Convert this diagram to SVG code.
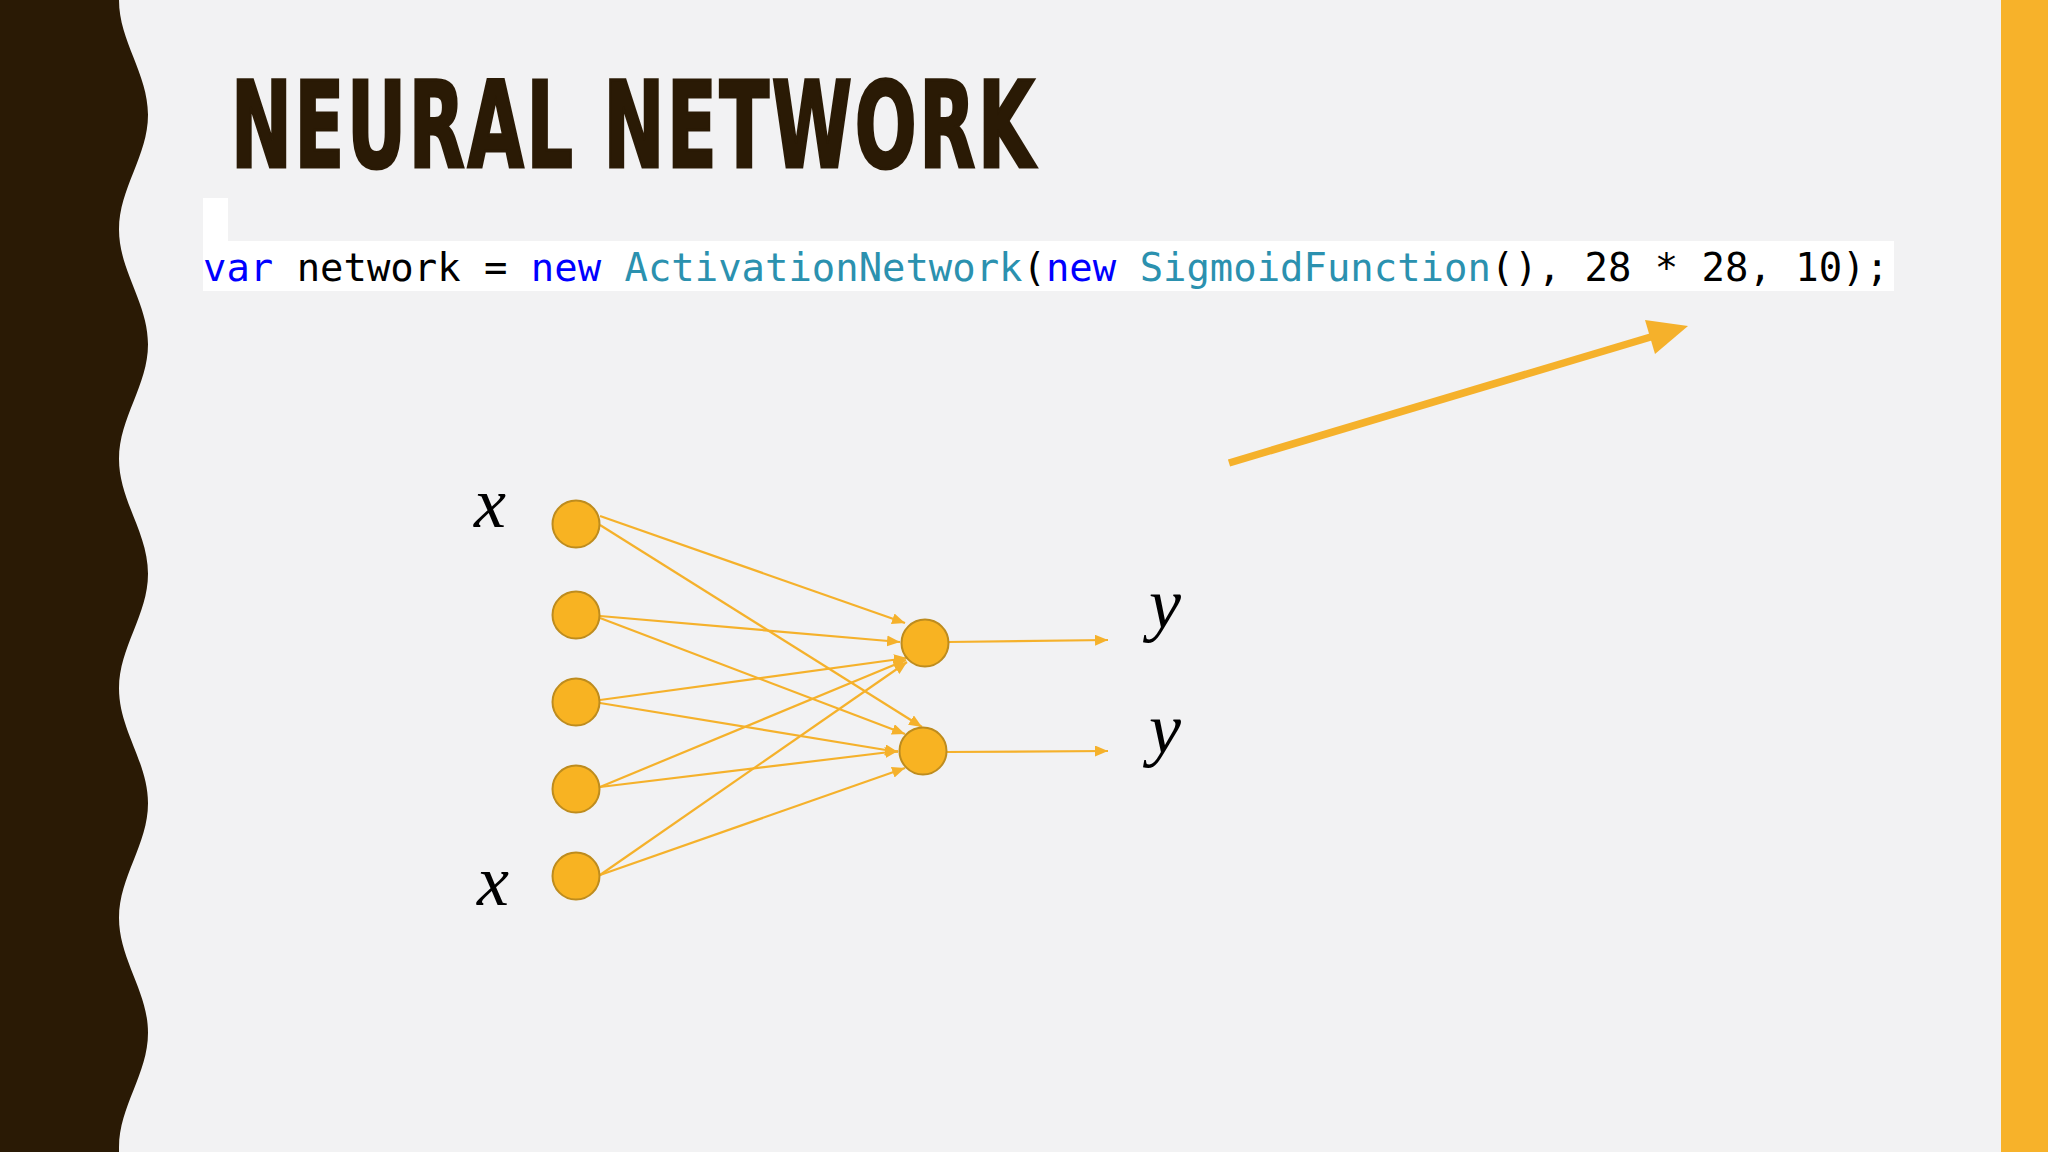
<svg xmlns="http://www.w3.org/2000/svg" width="2048" height="1152" viewBox="0 0 2048 1152">
<style>
.bg{fill:#F2F2F3}
.band{fill:#2A1A05}
.rband{fill:#F7B22A}
.title{font-family:"DejaVu Sans Condensed","Liberation Sans Narrow","Liberation Sans",sans-serif;font-weight:bold;font-size:120px;fill:#2A1A05;stroke:#2A1A05;stroke-width:3;font-kerning:none;letter-spacing:4px}
.code{font-family:"DejaVu Sans Mono","Liberation Mono",monospace;font-size:38.9px;fill:#000}
.kw{fill:#0000FF}
.ty{fill:#2B91AF}
.node{fill:#F8B322;stroke:#BE8C1E;stroke-width:2}
.conn{stroke:#F5B12B;stroke-width:2.2;fill:none;marker-end:url(#ah)}
.lbl{font-family:"Liberation Serif","DejaVu Serif",serif;font-style:italic;font-size:72px;fill:#000}
</style>
<defs>
<marker id="ah" markerUnits="userSpaceOnUse" markerWidth="14" markerHeight="12" refX="13" refY="5.5" orient="auto">
<path d="M0,0 L13,5.5 L0,11 z" fill="#F5B12B"/>
</marker>
</defs>
<rect class="bg" x="0" y="0" width="2048" height="1152"/>
<path class="band" d="M0,0 L119,0 C119,41.3 148,73.4 148,114.75 S119,188.2 119,229.5 S148,302.9 148,344.25 S119,417.7 119,459 S148,532.4 148,573.75 S119,647.2 119,688.5 S148,761.9 148,803.25 S119,876.7 119,918 S148,991.4 148,1032.75 S119,1106.2 119,1147.5 L119,1152 L0,1152 Z"/>
<rect class="rband" x="2001" y="0" width="47" height="1152"/>
<text class="title" x="231" y="167" textLength="806" lengthAdjust="spacingAndGlyphs">NEURAL NETWORK</text>
<g id="codebox">
<rect x="203" y="198" width="25" height="44" fill="#FFFFFF"/>
<rect x="203" y="241" width="1691" height="50" fill="#FFFFFF"/>
<text class="code" x="203" y="281"><tspan class="kw">var</tspan> network = <tspan class="kw">new</tspan> <tspan class="ty">ActivationNetwork</tspan>(<tspan class="kw">new</tspan> <tspan class="ty">SigmoidFunction</tspan>(), 28 * 28, 10);</text>
</g>
<g id="bigarrow">
<line x1="1229" y1="463" x2="1654" y2="336" stroke="#F5B12B" stroke-width="7.5"/>
<polygon points="1688,326 1645,320 1655,354" fill="#F5B12B"/>
</g>
<g id="connectors">
<line class="conn" x1="600" y1="516" x2="905" y2="623"/>
<line class="conn" x1="600" y1="525" x2="922" y2="727"/>
<line class="conn" x1="600" y1="616" x2="900" y2="642"/>
<line class="conn" x1="600" y1="618" x2="905" y2="734"/>
<line class="conn" x1="600" y1="700" x2="907" y2="658"/>
<line class="conn" x1="600" y1="703" x2="898" y2="752"/>
<line class="conn" x1="600" y1="787" x2="906" y2="660"/>
<line class="conn" x1="600" y1="787" x2="898" y2="751"/>
<line class="conn" x1="600" y1="875" x2="907" y2="662"/>
<line class="conn" x1="600" y1="875" x2="905" y2="768"/>
<line class="conn" x1="948" y1="642" x2="1108" y2="640"/>
<line class="conn" x1="947" y1="752" x2="1108" y2="751"/>
</g>
<g id="in1"><circle class="node" cx="576" cy="524" r="23.5"/></g>
<g id="in2"><circle class="node" cx="576" cy="615" r="23.5"/></g>
<g id="in3"><circle class="node" cx="576" cy="702" r="23.5"/></g>
<g id="in4"><circle class="node" cx="576" cy="789" r="23.5"/></g>
<g id="in5"><circle class="node" cx="576" cy="876" r="23.5"/></g>
<g id="outA"><circle class="node" cx="925" cy="643" r="23.5"/></g>
<g id="outB"><circle class="node" cx="923" cy="751" r="23.5"/></g>
<g id="labels">
<text class="lbl" x="474" y="527">x</text>
<text class="lbl" x="477" y="905">x</text>
<text class="lbl" x="1149" y="628">y</text>
<text class="lbl" x="1149" y="753">y</text>
</g>
</svg>
